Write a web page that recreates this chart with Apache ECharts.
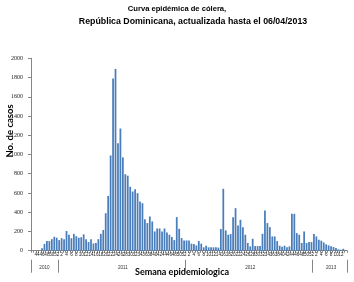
<!DOCTYPE html>
<html><head><meta charset="utf-8">
<script src="https://cdn.jsdelivr.net/npm/echarts@6/dist/echarts.min.js"></script>
<style>html,body{margin:0;padding:0;background:#fff}#c{width:354px;height:282px}</style>
</head><body><div id="c"></div>
<script>
const years = ['2010', '2011', '2012', '2013'];
const weeks2010 = [42,43,44,45,46,47,48,49,50,51,52];
const weeks2011 = [1,2,3,4,5,6,7,8,9,10,11,12,13,14,15,16,17,18,19,20,21,22,23,24,25,26,27,28,29,30,31,32,33,34,35,36,37,38,39,40,41,42,43,44,45,46,47,48,49,50,51,52];
const weeks2012 = [1,2,3,4,5,6,7,8,9,10,11,12,13,14,15,16,17,18,19,20,21,22,23,24,25,26,27,28,29,30,31,32,33,34,35,36,37,38,39,40,41,42,43,44,45,46,47,48,49,50,51,52];
const weeks2013 = [1,2,3,4,5,6,7,8,9,10,11,12,13,14];

const cases2010 = [0,0,0,0,25,70,100,100,120,145,135];
const cases2011 = [110,130,120,205,165,130,175,150,135,140,
                   170,120,90,120,75,80,120,175,215,390,
                   570,990,1790,1890,1116,1270,970,795,780,665,
                   615,640,598,511,494,328,287,356,304,200,
                   231,231,200,231,190,166,142,110,349,228,
                   131,107];
const cases2012 = [107,107,73,70,55,100,73,35,52,35,
                   35,35,35,32,225,643,211,166,173,349,
                   442,262,321,245,166,80,45,124,48,48,
                   48,176,418,287,245,148,148,100,52,41,
                   52,35,45,383,383,183,166,80,200,80,
                   90,90];
const cases2013 = [173,148,114,104,86,66,55,45,38,28,14,10,20,3];

const yTicks = { min: 0, max: 2000, step: 200 };

const weekGroups = [weeks2010, weeks2011, weeks2012, weeks2013];
const caseGroups = [cases2010, cases2011, cases2012, cases2013];

const categories = [];
const values = [];
const yearCenter = {};
const yearStarts = [];
let idx = 0;
weekGroups.forEach((wk, g) => {
  yearStarts.push(idx);
  yearCenter[idx + Math.floor(wk.length / 2)] = years[g];
  wk.forEach((w, k) => {
    categories.push(years[g] + '-' + w);
    values.push(caseGroups[g][k]);
  });
  idx += wk.length;
});

const chart = echarts.init(document.getElementById('c'), null, { renderer: 'canvas' });
chart.setOption({
  animation: false,
  grid: { left: 31, right: 7, top: 58.3, bottom: 31.3, containLabel: false },
  xAxis: [{
    type: 'category',
    data: categories,
    axisLine: { lineStyle: { color: '#868686', width: 1 } },
    axisTick: { show: true, interval: 0, length: 2, lineStyle: { color: '#868686' } },
    axisLabel: {
      interval: 1, fontSize: 4.6, color: '#222', margin: 2,
      fontFamily: 'Liberation Sans',
      formatter: v => v.split('-')[1]
    }
  }, {
    type: 'category',
    data: categories,
    position: 'bottom',
    offset: 9,
    axisLine: { show: false },
    axisTick: {
      show: true, length: 13,
      interval: (i) => yearStarts.indexOf(i) >= 0,
      lineStyle: { color: '#868686' }
    },
    axisLabel: {
      interval: (i) => yearCenter[i] !== undefined,
      formatter: (v, i) => yearCenter[i] || '',
      fontSize: 4.6, color: '#333', margin: 6, fontFamily: 'Liberation Sans'
    }
  }],
  yAxis: {
    type: 'value', min: yTicks.min, max: yTicks.max, interval: yTicks.step,
    splitLine: { show: false },
    axisLine: { show: true, lineStyle: { color: '#868686' } },
    axisTick: { show: true, length: 3, lineStyle: { color: '#868686' } },
    axisLabel: { fontSize: 6, color: '#222', margin: 8, fontFamily: 'Liberation Serif', formatter: v => String(v) }
  },
  series: [{
    type: 'bar',
    data: values,
    xAxisIndex: 0,
    barCategoryGap: '28%',
    itemStyle: { color: '#4A7EBB' }
  }],
  graphic: [
    { type: 'text', x: 177, y: 8.5, style: { text: 'Curva epidémica de cólera,', font: 'bold 7.6px "Liberation Sans"', fill: '#000', align: 'center', verticalAlign: 'middle' } },
    { type: 'text', x: 193, y: 21.5, style: { text: 'República Dominicana, actualizada hasta el 06/04/2013', font: 'bold 8.8px "Liberation Sans"', fill: '#000', align: 'center', verticalAlign: 'middle' } },
    { type: 'text', x: 10, y: 131, rotation: Math.PI / 2, style: { text: 'No. de casos', font: 'bold 9.5px Lato', fill: '#000', align: 'center', verticalAlign: 'middle' } },
    { type: 'text', x: 182, y: 272, style: { text: 'Semana epidemiologica', font: 'bold 9px Lato', fill: '#000', align: 'center', verticalAlign: 'middle' } }
  ]
});
</script>
</body></html>
